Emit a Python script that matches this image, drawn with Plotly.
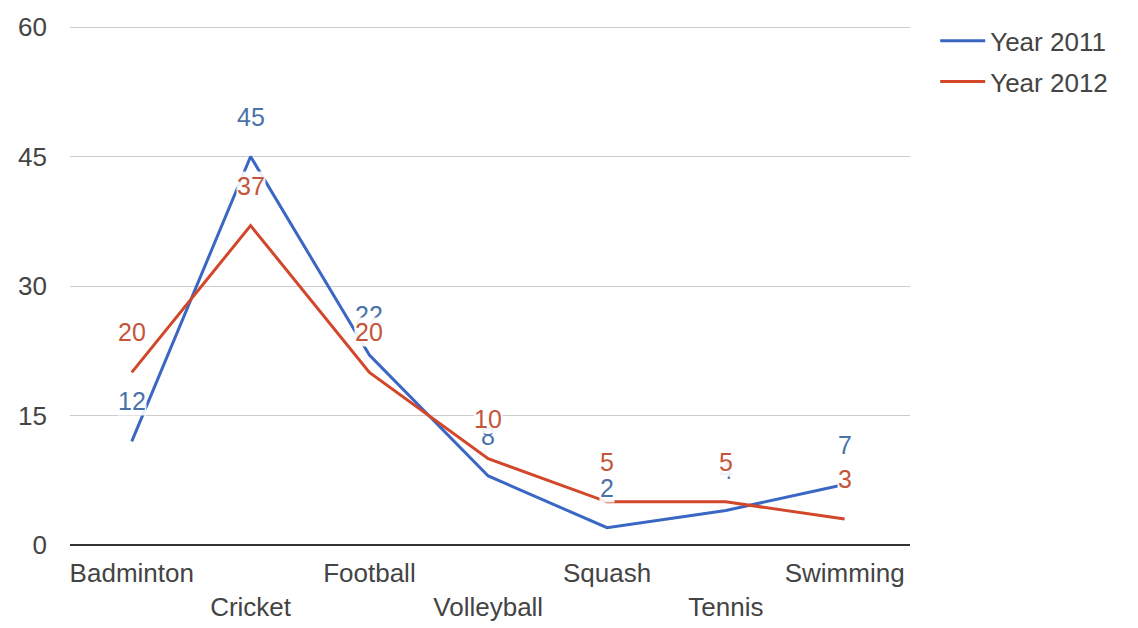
import plotly.graph_objects as go

sports = ["Badminton", "Cricket", "Football", "Volleyball", "Squash", "Tennis", "Swimming"]
year_2011 = [12, 45, 22, 8, 2, 4, 7]
year_2012 = [20, 37, 20, 10, 5, 5, 3]
y_ticks = [0, 15, 30, 45, 60]

BLUE = "#3a66c4"
RED = "#d2472a"
BLUE_TXT = "#4a72a8"
RED_TXT = "#c4553a"
FONT = "Liberation Sans, Arial, sans-serif"
SIZE = 26

fig = go.Figure()
fig.add_trace(go.Scatter(x=sports, y=year_2011, mode="lines", name="Year 2011",
                         legendgroup="a", line=dict(color=BLUE, width=3)))
fig.add_trace(go.Scatter(x=sports, y=year_2012, mode="lines", name="Year 2012",
                         legendgroup="b", line=dict(color=RED, width=3)))

# value labels floating above each point, red drawn last so it sits on top
annotations = []
for series, colour in ((year_2011, BLUE_TXT), (year_2012, RED_TXT)):
    for s, v in zip(sports, series):
        annotations.append(dict(x=s, y=v, text=str(v), showarrow=False,
                                yshift=40, bgcolor="rgba(255,255,255,0.9)", borderpad=0,
                                font=dict(family=FONT, size=SIZE - 1, color=colour)))

# alternate the category labels on two rows
tick_text = [s if i % 2 == 0 else "<br>" + s for i, s in enumerate(sports)]

fig.update_layout(
    width=1138, height=628,
    margin=dict(l=70, r=228, t=24, b=83),
    paper_bgcolor="white", plot_bgcolor="white",
    font=dict(family=FONT, size=SIZE, color="#444"),
    annotations=annotations,
    legend=dict(x=1.03, y=1.013, xanchor="left", yanchor="top",
                font=dict(family=FONT, size=SIZE, color="#444"),
                tracegroupgap=4, itemwidth=45),
    xaxis=dict(type="category", range=[-0.52, 6.55], tickvals=sports, ticktext=tick_text,
               showgrid=False, showline=False, zeroline=False, ticks="", automargin=False,
               ticklabelstandoff=10, tickfont=dict(size=SIZE, color="#444")),
    yaxis=dict(range=[0, 60.35], tickvals=y_ticks, showgrid=True, gridcolor="#cccccc",
               gridwidth=1, zeroline=True, zerolinecolor="#333333", zerolinewidth=2,
               showline=False, ticks="", ticklabelstandoff=22, automargin=False,
               tickfont=dict(size=SIZE, color="#444")),
)

fig.write_html("out.html")
